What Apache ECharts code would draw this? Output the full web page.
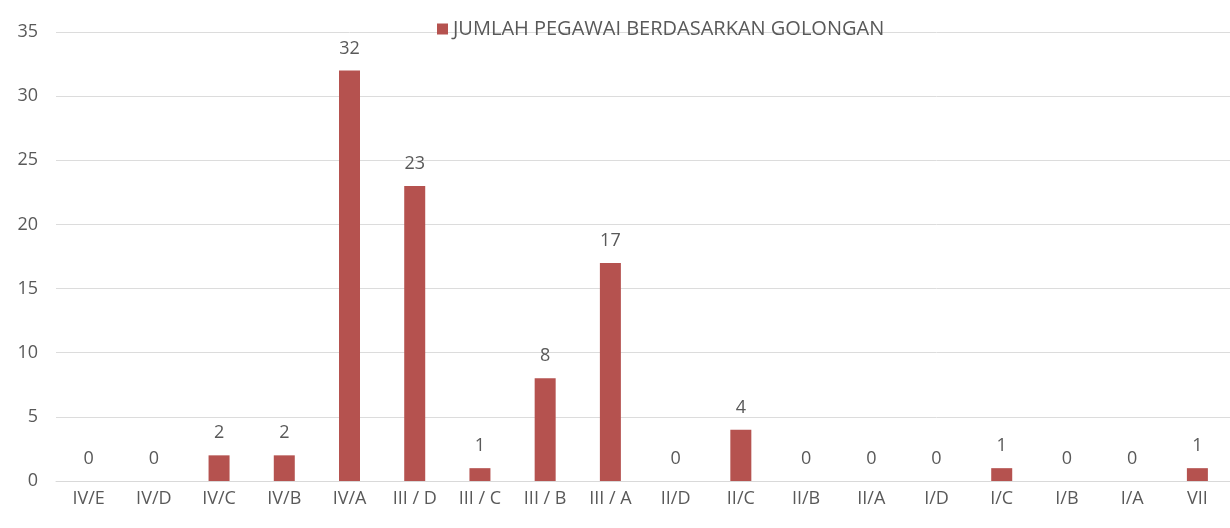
<!DOCTYPE html>
<html>
<head>
<meta charset="utf-8">
<script src="https://cdn.jsdelivr.net/npm/echarts@6/dist/echarts.min.js"></script>
<style>
  html, body { margin: 0; padding: 0; background: #fff; }
  #chart { width: 1230px; height: 528px; }
</style>
</head>
<body>
<div id="chart"></div>
<script>
// golongan pegawai
var categories = ['IV/E', 'IV/D', 'IV/C', 'IV/B', 'IV/A', 'III / D', 'III / C', 'III / B', 'III / A',
  'II/D', 'II/C', 'II/B', 'II/A', 'I/D', 'I/C', 'I/B', 'I/A', 'VII'];
var jumlah = [0, 0, 2, 2, 32, 23, 1, 8, 17, 0, 4, 0, 0, 0, 1, 0, 0, 1];
var yTicks = [0, 5, 10, 15, 20, 25, 30, 35];

var font = 'Open Sans';
var textColor = '#595959';

var chart = echarts.init(document.getElementById('chart'));

chart.setOption({
  animation: false,
  textStyle: { fontFamily: font },
  legend: {
    top: 14,
    left: 432,
    itemWidth: 11,
    itemHeight: 11,
    itemGap: 4,
    icon: 'rect',
    textStyle: { color: textColor, fontSize: 20, fontFamily: font },
    data: ['JUMLAH PEGAWAI BERDASARKAN GOLONGAN']
  },
  grid: {
    left: 56,
    right: 0,
    top: 32,
    bottom: 47,
    containLabel: false
  },
  xAxis: {
    type: 'category',
    data: categories,
    axisTick: { show: false },
    axisLine: { lineStyle: { color: '#d9d9d9' } },
    axisLabel: { color: textColor, fontSize: 18, margin: 9, interval: 0 }
  },
  yAxis: {
    type: 'value',
    min: yTicks[0],
    max: yTicks[yTicks.length - 1],
    interval: 5,
    axisLine: { show: false },
    axisTick: { show: false },
    axisLabel: { color: textColor, fontSize: 18, margin: 18 },
    splitLine: { lineStyle: { color: '#dcdcdc', width: 1 } }
  },
  series: [{
    name: 'JUMLAH PEGAWAI BERDASARKAN GOLONGAN',
    type: 'bar',
    data: jumlah,
    barWidth: 21,
    itemStyle: { color: '#b5524f' },
    label: {
      show: true,
      position: 'top',
      distance: 13,
      color: textColor,
      fontSize: 18,
      fontFamily: font
    }
  }]
});
</script>
</body>
</html>
